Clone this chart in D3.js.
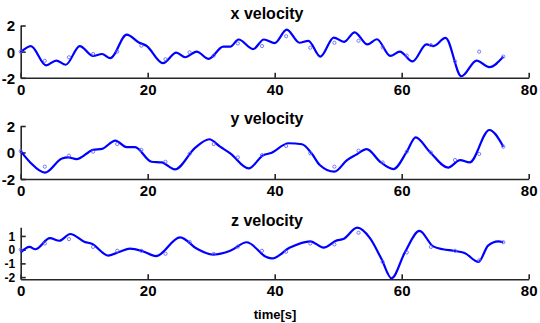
<!doctype html>
<html>
  <head>
    <meta charset="utf-8">
    <title>velocity</title>
    <script src="https://cdnjs.cloudflare.com/ajax/libs/d3/7.8.5/d3.min.js"></script>
    <style>
      body { margin: 0; background: #fff; }
      text { font-family: "Liberation Sans", Arial, sans-serif; font-weight: bold; fill: #000; }
    </style>
  </head>
  <body>
    <div id="chart"></div>
    <script>
      // smooth line (time, value)
      const xT = [0, 1.6, 4.0, 5.6, 7.1, 9.3, 11.4, 12.8, 14.1, 16.7, 18.6, 19.8, 22.4, 24.5, 25.9, 27.7, 29.6, 31.9, 33.0, 34.3, 36.6, 38.3, 40.0, 41.9, 43.9, 45.3, 47.2, 49.3, 50.9, 52.6, 54.6, 56.1, 58.2, 59.7, 61.7, 63.9, 65.0, 66.9, 69.4, 71.8, 73.8, 76.0];
      const xV = [-0.05, 0.43, -1.05, -0.68, -1.0, 0.43, -0.33, -0.18, -0.5, 1.3, 0.7, 0.45, -0.88, -0.08, -0.43, 0.0, -0.55, 0.38, 0.38, 0.93, 0.2, 0.93, 0.65, 1.68, 0.68, 0.83, -0.38, 1.08, 0.75, 1.48, 0.55, 0.95, -0.33, 0.0, -0.75, 0.55, 0.43, 1.05, -1.88, -0.68, -1.18, -0.38];

      const yT = [0, 1.5, 3.8, 6.5, 7.5, 8.8, 11.4, 12.8, 14.9, 16.7, 18.0, 20.6, 22.2, 24.3, 27.5, 29.7, 31.4, 33.0, 35.9, 38.2, 39.3, 42.2, 44.3, 45.8, 47.1, 49.4, 51.4, 52.7, 54.5, 56.6, 58.7, 60.8, 62.2, 64.4, 67.3, 69.2, 70.7, 73.8, 76.0];
      const yV = [0.1, -0.75, -1.52, -0.45, -0.37, -0.5, 0.2, 0.27, 0.9, 0.4, 0.4, -0.7, -0.75, -1.27, 0.37, 1.0, 0.44, -0.06, -1.2, -0.2, -0.06, 0.7, 0.62, -0.06, -0.94, -1.45, -0.57, -0.2, 0.26, -0.7, -1.25, 0.06, 1.14, 0.06, -1.14, -0.57, -0.75, 1.7, 0.44];

      const zT = [0, 1.4, 2.3, 4.6, 6.1, 7.8, 10.1, 11.2, 13.8, 15.6, 17.2, 19.3, 21.3, 25.1, 27.7, 30.3, 33.0, 35.6, 38.7, 39.6, 42.4, 45.6, 47.7, 49.8, 50.8, 53.0, 55.0, 56.8, 58.4, 60.5, 62.8, 64.9, 66.5, 68.1, 69.9, 72.1, 73.6, 75.2, 76.0];
      const zV = [-0.2, 0.2, 0.03, 0.84, 0.65, 1.14, 0.56, 0.43, -0.43, -0.15, 0.08, -0.13, -0.47, 0.9, 0.08, -0.36, -0.08, 0.54, -0.54, -0.64, 0.15, 0.61, 0.15, 0.68, 0.77, 1.6, 0.84, -0.66, -2.09, -0.2, 1.37, 0.26, 0.03, -0.08, -0.24, -0.89, 0.3, 0.61, 0.54];

      // sample markers
      const sampleT = [0, 3.8, 7.6, 11.4, 15.2, 19.0, 22.8, 26.6, 30.4, 34.2, 38.0, 41.8, 45.6, 49.4, 53.2, 57.0, 60.8, 64.6, 68.4, 72.2, 76.0];
      const sampleX = [0, -0.7, -0.43, -0.18, 0, 0.45, -0.58, -0.05, -0.3, 0.63, 0.43, 1.18, 0.3, 0.68, 0.83, 0.33, -0.3, 0.5, -0.75, 0, -0.38];
      const sampleY = [0.1, -1.07, -0.24, 0.06, 0.64, 0.2, -0.7, -0.1, 0.64, -0.37, -0.2, 0.49, -0.06, -1.07, 0.14, -0.75, 0.06, 0, -0.57, -0.11, 0.44];
      const sampleZ = [0, 0.45, 0.77, 0.2, -0.08, -0.08, -0.3, 0.56, -0.31, 0.22, -0.08, -0.15, 0.45, 0.38, 1.23, -0.89, -0.2, 0.2, -0.08, -0.78, 0.54];

      const titles = ['x velocity', 'y velocity', 'z velocity'];
      const xTicks = [0, 20, 40, 60, 80];
      const yTicksList = [[-2, 0, 2], [-2, 0, 2], [-2, -1, 0, 1]];
      const yDomains = [[-2, 2], [-2, 2], [-2.16, 1.63]];

      const panels = [
        { t: xT, v: xV, s: sampleX, top: 25.5, bottom: 77.8, titleY: 19, yFont: 15 },
        { t: yT, v: yV, s: sampleY, top: 126, bottom: 179, titleY: 123.5, yFont: 15 },
        // tick labels packed tight here, a bit smaller
        { t: zT, v: zV, s: sampleZ, top: 227.3, bottom: 279.3, titleY: 226, yFont: 12 }
      ];

      const svg = d3.select('#chart').append('svg')
        .attr('width', 540)
        .attr('height', 323);

      const x = d3.scaleLinear().domain([0, 80]).range([20.7, 528.7]);
      const axisColor = '#262626';

      panels.forEach(function(p, k) {
        const y = d3.scaleLinear().domain(yDomains[k]).range([p.bottom, p.top]);
        const g = svg.append('g');

        // x axis, ticks pointing in
        const xa = g.append('g')
          .attr('transform', 'translate(0,' + p.bottom + ')')
          .call(d3.axisBottom(x).tickValues(xTicks).tickSizeInner(-5).tickSizeOuter(0).tickPadding(0).tickFormat(d3.format('d')));
        xa.select('.domain').attr('stroke', axisColor).attr('stroke-width', 1.6);
        xa.selectAll('line').attr('stroke', axisColor).attr('stroke-width', 1.6);
        xa.selectAll('text').attr('y', 17).attr('dy', 0)
          .style('font-size', '15px').style('fill', '#000').style('font-family', '"Liberation Sans", Arial, sans-serif').style('font-weight', 'bold');

        // y axis
        const ya = g.append('g')
          .attr('transform', 'translate(' + x(0) + ',0)')
          .call(d3.axisLeft(y).tickValues(yTicksList[k]).tickSizeInner(-5).tickSizeOuter(0).tickPadding(0).tickFormat(d3.format('d')));
        ya.select('.domain').attr('stroke', axisColor).attr('stroke-width', 1.6);
        ya.selectAll('line').attr('stroke', axisColor).attr('stroke-width', 1.6);
        ya.selectAll('text').attr('x', -5.5).attr('dy', '0.36em')
          .text(d => d < 0 ? '-' + Math.abs(d) : d)
          .style('font-size', p.yFont + 'px').style('fill', '#000').style('font-family', '"Liberation Sans", Arial, sans-serif').style('font-weight', 'bold');

        // title
        g.append('text')
          .attr('x', 267)
          .attr('y', p.titleY)
          .attr('text-anchor', 'middle')
          .style('font-size', '16px')
          .text(titles[k]);

        // smooth line
        const pts = p.t.map((t, i) => [t, p.v[i]]);
        const line = d3.line()
          .x(d => x(d[0]))
          .y(d => y(d[1]))
          .curve(d3.curveMonotoneX);
        g.append('path')
          .datum(pts)
          .attr('d', line)
          .attr('fill', 'none')
          .attr('stroke', '#0000ff')
          .attr('stroke-width', 2.2)
          .attr('stroke-linejoin', 'round');

        // sample markers
        g.selectAll('circle.m')
          .data(sampleT.map((t, i) => [t, p.s[i]]))
          .join('circle')
          .attr('class', 'm')
          .attr('cx', d => x(d[0]))
          .attr('cy', d => y(d[1]))
          .attr('r', 1.6)
          .attr('fill', 'none')
          .attr('stroke', '#5a5aff')
          .attr('stroke-width', 0.8);
      });

      svg.append('text')
        .attr('x', 275)
        .attr('y', 319)
        .attr('text-anchor', 'middle')
        .style('font-size', '13px')
        .text('time[s]');
    </script>
  </body>
</html>
